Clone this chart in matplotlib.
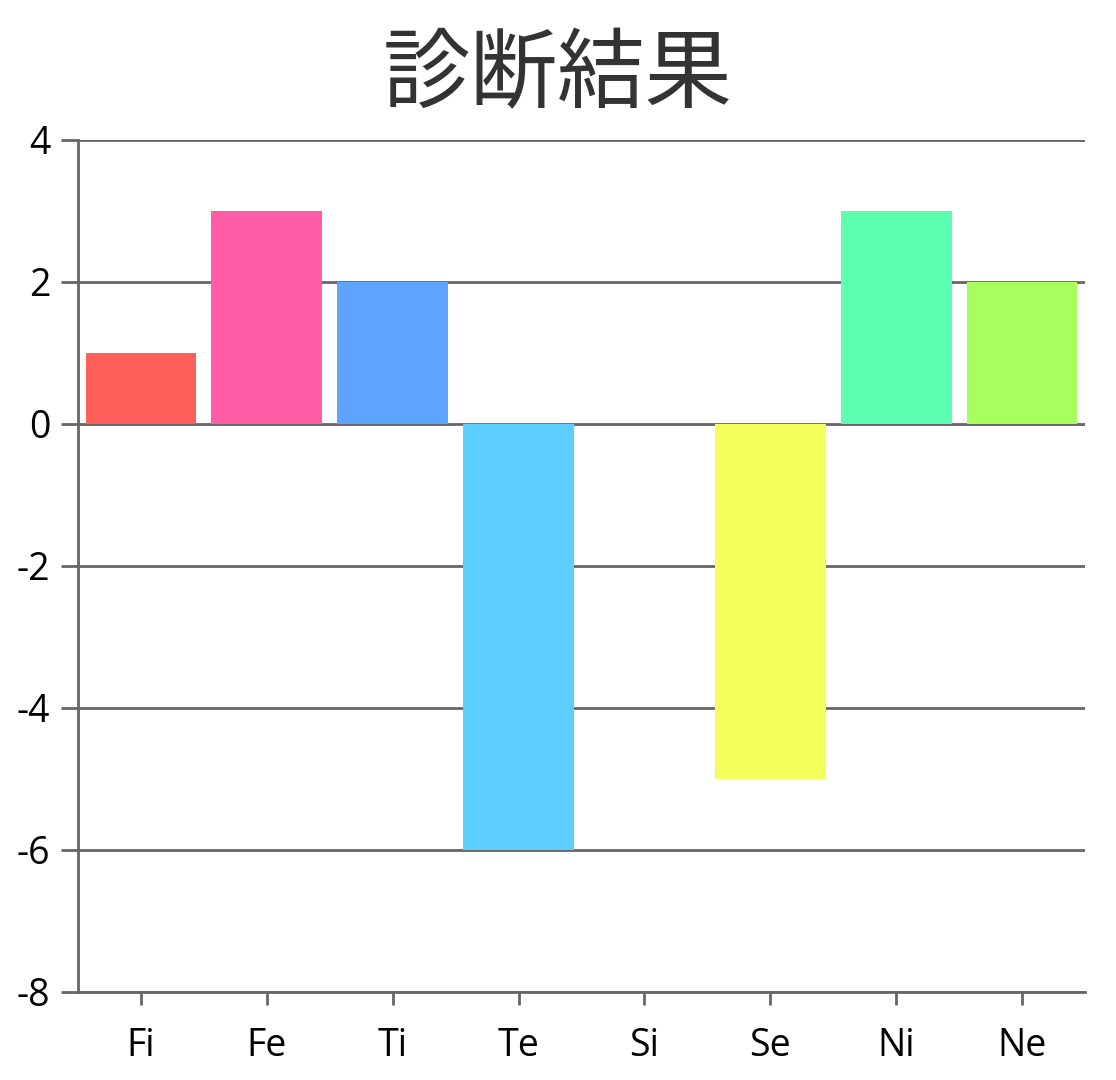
import matplotlib
matplotlib.use('Agg')
import matplotlib.pyplot as plt

# データ
categories = ['Fi', 'Fe', 'Ti', 'Te', 'Si', 'Se', 'Ni', 'Ne']
values = [1, 3, 2, -6, 0, -5, 3, 2]
colors = ['#FF605A', '#FF5CA6', '#5CA4FF', '#5CCDFF', '#C0C0C0', '#F5FF5C', '#5CFFB0', '#A6FF5C']
y_ticks = [-8, -6, -4, -2, 0, 2, 4]
title = '診断結果'

plt.rcParams['font.family'] = ['Open Sans', 'Noto Sans CJK JP', 'DejaVu Sans']

fig = plt.figure(figsize=(11.16, 10.8), dpi=100)
ax = fig.add_axes([0.0699, 0.0815, 0.9023, 0.7889])

x = list(range(len(categories)))
ax.bar(x, values, width=0.88, color=colors, zorder=3)

ax.set_xlim(-0.5, len(categories) - 0.5)
ax.set_ylim(-8, 4)
ax.set_yticks(y_ticks)
ax.set_yticklabels([str(v) for v in y_ticks])
ax.set_xticks(x)
ax.set_xticklabels(categories)

grid_color = '#666666'
ax.grid(axis='y', color=grid_color, linewidth=2, zorder=1)
for side in ['top', 'right']:
    ax.spines[side].set_visible(False)
ax.spines['left'].set_color(grid_color)
ax.spines['left'].set_linewidth(2)
ax.spines['bottom'].set_color(grid_color)
ax.spines['bottom'].set_linewidth(2)

ax.tick_params(axis='y', length=12, width=2, color=grid_color, labelsize=27, pad=8)
ax.tick_params(axis='x', length=9, width=2, color=grid_color, labelsize=27, pad=16)

fig.text(0.5, 0.929, title, ha='center', va='center', fontsize=63, color='#333333',
         family=['Noto Sans CJK JP', 'DejaVu Sans'])

fig.savefig('out.png', dpi=100)
